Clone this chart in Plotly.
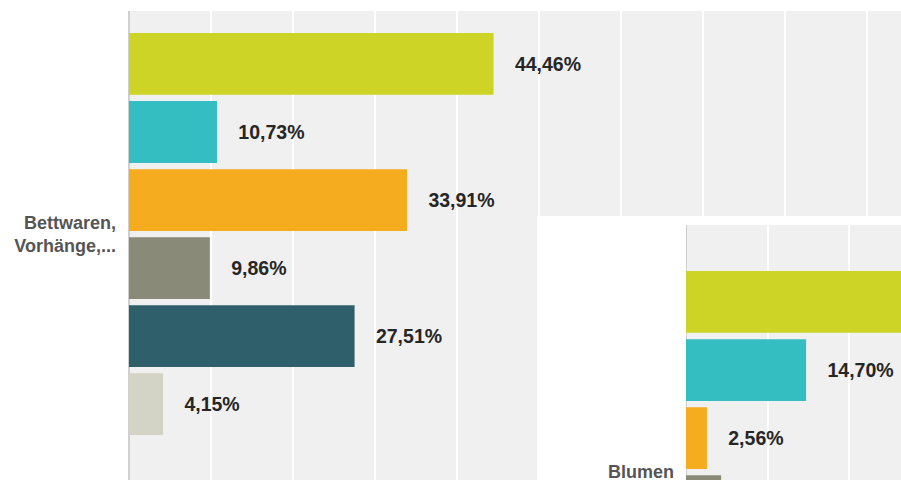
import plotly.graph_objects as go

# ---- data ----
cat_left = ["Bettwaren,<br>Vorhänge,..."]
cat_right = ["Blumen"]
values_left = [44.46, 10.73, 33.91, 9.86, 27.51, 4.15]
values_right = [40.0, 14.70, 2.56, 4.3, None, None]  # last two not visible; first runs off-view
colors = ["#cdd425", "#35bec1", "#f5ac1f", "#8a8a78", "#2f5f6b", "#d3d3c6"]

W, H = 901, 482
FONT = "Liberation Sans, Arial, sans-serif"
PAD = '<span style="font-size:16.5px">' + "\u00a0" * 4 + "</span>"


def fmt(v):
    if v is None:
        return None
    return PAD + f"{v:.2f}".replace(".", ",") + "%"


fig = go.Figure()

for vals, cat, xa, ya in [(values_left, cat_left, "x", "y"), (values_right, cat_right, "x2", "y2")]:
    for i, v in enumerate(vals):
        fig.add_trace(go.Bar(
            y=cat, x=[v], orientation="h",
            marker=dict(color=colors[i], line=dict(width=0)),
            text=[fmt(v)], textposition="outside", constraintext="none",
            textfont=dict(family=FONT, size=19.5, color="#262626", weight="bold"),
            xaxis=xa, yaxis=ya, showlegend=False, hoverinfo="skip",
        ))

# geometry (pixels)
px_per_unit = 6 * 68.3 / 0.9
# left chart
l_left, l_top, l_center = 129, 11, 235
l_pxpct = 8.2
# right chart
r_box_left, r_box_top, r_plot_left, r_plot_top, r_center = 537, 217, 686, 226, 474
r_pxpct = 8.17

x1_range = [0, (W - l_left) / l_pxpct]
y1_range = [(H - l_center) / px_per_unit, -(l_center - l_top) / px_per_unit]
x2_range = [-(r_plot_left - r_box_left) / r_pxpct, (W - r_plot_left) / r_pxpct]
y2_range = [(H - r_center) / px_per_unit, -(r_center - r_box_top) / px_per_unit]
y2_plot_top = -(r_center - r_plot_top) / px_per_unit

tickfont = dict(family=FONT, size=18, color="#555555", weight="bold")

fig.update_layout(
    width=W, height=H,
    margin=dict(l=0, r=0, t=0, b=0),
    paper_bgcolor="white", plot_bgcolor="#f0f0f0",
    barmode="group", bargap=0.1, bargroupgap=0.092,
    xaxis=dict(domain=[l_left / W, 1], range=x1_range, dtick=10, showticklabels=False,
               showgrid=True, gridcolor="white", gridwidth=2,
               zeroline=True, zerolinecolor="#cfcfcf", zerolinewidth=1.5, anchor="y"),
    yaxis=dict(domain=[0, 1 - l_top / H], range=y1_range, showgrid=False, zeroline=False,
               tickfont=tickfont, ticklabelstandoff=12, anchor="x"),
    xaxis2=dict(domain=[r_box_left / W, 1], range=x2_range, dtick=10, showticklabels=False,
                showgrid=True, gridcolor="white", gridwidth=2,
                zeroline=True, zerolinecolor="#cfcfcf", zerolinewidth=1.5, anchor="y2"),
    yaxis2=dict(domain=[0, 1 - r_box_top / H], range=y2_range, showgrid=False, zeroline=False,
                tickfont=tickfont, ticklabelstandoff=12, anchor="free",
                position=r_plot_left / W),
)

# white margins of the second (overlapping) chart panel
fig.add_shape(type="rect", xref="x2", yref="y2", layer="between",
              x0=x2_range[0], x1=0, y0=y2_range[0], y1=y2_range[1],
              fillcolor="white", line=dict(width=0))
fig.add_shape(type="rect", xref="x2", yref="y2", layer="between",
              x0=0, x1=x2_range[1], y0=y2_plot_top, y1=y2_range[1],
              fillcolor="white", line=dict(width=0))

fig.write_html("out.html", config={"displayModeBar": False},
               post_script="document.body.style.margin='0px';")
